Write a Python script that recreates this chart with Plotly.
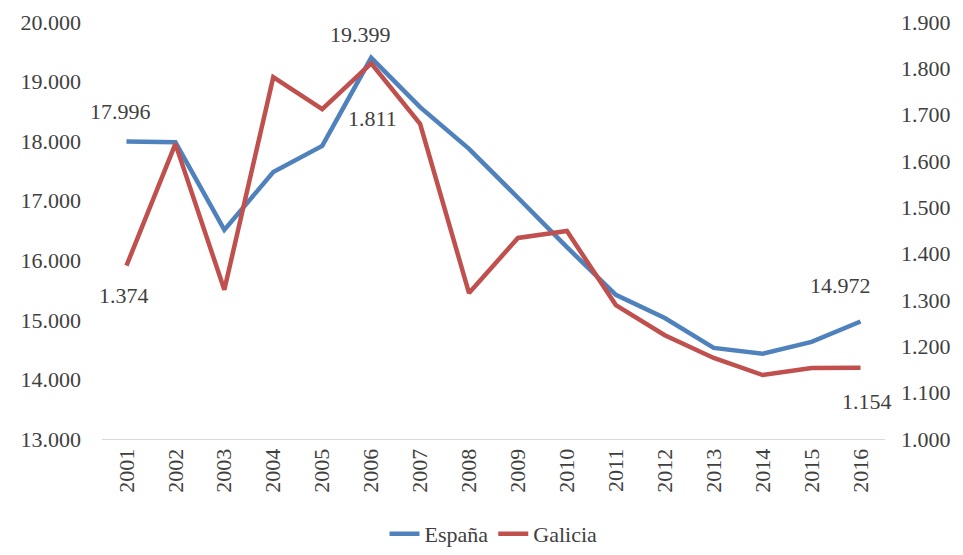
import plotly.graph_objects as go

years = [str(y) for y in range(2001, 2017)]
espana = [17996, 17980, 16510, 17480, 17920, 19399, 18570, 17870, 17050, 16220,
          15420, 15030, 14530, 14430, 14630, 14972]
galicia = [1374, 1637, 1322, 1781, 1712, 1811, 1680, 1315, 1434, 1449,
           1289, 1224, 1175, 1138, 1153, 1154]

left_ticks = list(range(13000, 20001, 1000))
right_ticks = list(range(1000, 1901, 100))

def fmt(v):
    return f"{v:,}".replace(",", ".")

FONT = "Liberation Serif, Times New Roman, DejaVu Serif, serif"
TXT = "#404040"
BLUE = "#4f81bd"
RED = "#c0504d"
FS = 22

fig = go.Figure()
fig.add_trace(go.Scatter(x=years, y=espana, name="España", mode="lines",
                         line=dict(color=BLUE, width=4.5), yaxis="y"))
fig.add_trace(go.Scatter(x=years, y=galicia, name="Galicia", mode="lines",
                         line=dict(color=RED, width=4.5), yaxis="y2"))

# data labels: (index, series, axis, xshift, yshift)
label_specs = [
    (0, espana, "y", -6, 30),
    (5, espana, "y", -11, 23),
    (15, espana, "y", -20, 36),
    (0, galicia, "y2", -2, -30),
    (5, galicia, "y2", 1, -55),
    (15, galicia, "y2", 6, -34),
]
for idx, series, yr, xs, ys in label_specs:
    fig.add_annotation(x=idx, y=series[idx], xref="x", yref=yr,
                       text=fmt(series[idx]), showarrow=False,
                       xshift=xs, yshift=ys,
                       font=dict(family=FONT, size=FS, color=TXT))

fig.update_layout(
    width=955, height=547,
    margin=dict(l=94, r=78, t=14, b=116, autoexpand=False),
    paper_bgcolor="white", plot_bgcolor="white",
    font=dict(family=FONT, size=FS, color=TXT),
    showlegend=True,
    legend=dict(orientation="h", x=0.5, xanchor="center",
                yref="container", y=-0.008, yanchor="bottom",
                font=dict(family=FONT, size=FS, color=TXT),
                tracegroupgap=0),
    xaxis=dict(type="category", range=[-0.5, 15.5], tickangle=-90,
               showline=True, linecolor="#d9d9d9", linewidth=1,
               showgrid=False, ticks="", automargin=False,
               tickfont=dict(family=FONT, size=FS, color=TXT)),
    yaxis=dict(range=[13000, 20000], tickvals=left_ticks,
               ticktext=[fmt(v) for v in left_ticks],
               showgrid=False, zeroline=False, showline=False, ticks="",
               automargin=False, ticklabelstandoff=20,
               tickfont=dict(family=FONT, size=FS, color=TXT)),
    yaxis2=dict(range=[1000, 1900], tickvals=right_ticks,
                ticktext=[fmt(v) for v in right_ticks],
                overlaying="y", side="right", automargin=False,
                showgrid=False, zeroline=False, showline=False, ticks="",
                ticklabelstandoff=15,
                tickfont=dict(family=FONT, size=FS, color=TXT)),
)

fig.write_html("out.html")
